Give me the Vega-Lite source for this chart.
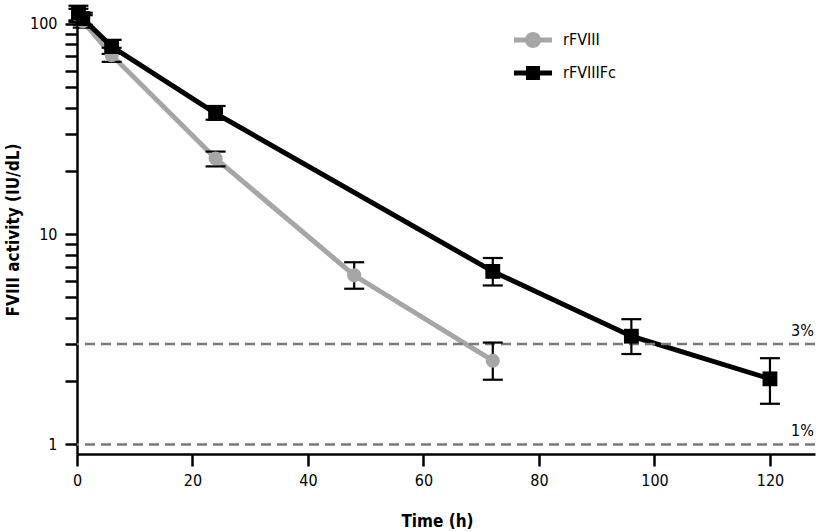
{
  "$schema": "https://vega.github.io/schema/vega-lite/v6.json",
  "width": 738,
  "height": 449,
  "autosize": {"type": "none"},
  "padding": {"left": 77, "top": 5, "right": 2, "bottom": 78},
  "config": {
    "font": "Liberation Sans Narrow, DejaVu Sans Condensed, sans-serif",
    "view": {"stroke": null},
    "axis": {
      "domainColor": "#000000",
      "domainWidth": 2.5,
      "tickColor": "#000000",
      "tickWidth": 2.5,
      "labelColor": "#000000",
      "labelFontSize": 16,
      "titleFontSize": 17,
      "titleFontWeight": "bold",
      "titleColor": "#000000",
      "grid": false,
      "labelFlush": false
    }
  },
  "datasets": {
    "pk": [
      {"series": "rFVIII", "time": 0.25, "mean": 110, "lo": 102, "hi": 118},
      {"series": "rFVIII", "time": 1, "mean": 103, "lo": 96, "hi": 110},
      {"series": "rFVIII", "time": 6, "mean": 71, "lo": 66, "hi": 77},
      {"series": "rFVIII", "time": 24, "mean": 22.9, "lo": 21, "hi": 24.7},
      {"series": "rFVIII", "time": 48, "mean": 6.37, "lo": 5.5, "hi": 7.35},
      {"series": "rFVIII", "time": 72, "mean": 2.5, "lo": 2.03, "hi": 3.05},
      {"series": "rFVIIIFc", "time": 0.25, "mean": 113, "lo": 104, "hi": 122},
      {"series": "rFVIIIFc", "time": 1, "mean": 106, "lo": 99, "hi": 113},
      {"series": "rFVIIIFc", "time": 6, "mean": 78, "lo": 72, "hi": 84},
      {"series": "rFVIIIFc", "time": 24, "mean": 37.5, "lo": 35, "hi": 40.7},
      {"series": "rFVIIIFc", "time": 72, "mean": 6.65, "lo": 5.7, "hi": 7.7},
      {"series": "rFVIIIFc", "time": 96, "mean": 3.27, "lo": 2.69, "hi": 3.94},
      {"series": "rFVIIIFc", "time": 120, "mean": 2.05, "lo": 1.56, "hi": 2.57}
    ],
    "ref": [
      {"level": 1, "label": "1%"},
      {"level": 3, "label": "3%"}
    ]
  },
  "layer": [
    {
      "data": {"name": "pk"},
      "transform": [{"filter": "datum.series == 'rFVIII'"}],
      "mark": {"type": "line", "strokeWidth": 5, "color": "#a6a6a6"},
      "encoding": {
        "x": {
          "field": "time", "type": "quantitative",
          "scale": {"domain": [0, 127.8], "nice": false, "zero": false},
          "axis": {
            "title": "Time (h)",
            "values": [0, 20, 40, 60, 80, 100, 120],
            "tickSize": 12,
            "labelPadding": 6,
            "titlePadding": 25,
            "titleX": 360
          }
        },
        "y": {
          "field": "mean", "type": "quantitative",
          "scale": {"type": "log", "domain": [0.9, 123], "nice": false},
          "axis": {
            "title": "FVIII activity (IU/dL)",
            "values": [1, 2, 3, 4, 5, 6, 7, 8, 9, 10, 20, 30, 40, 50, 60, 70, 80, 90, 100],
            "format": "d",
            "labelExpr": "datum.value == 1 || datum.value == 10 || datum.value == 100 ? datum.label : ''",
            "tickSize": 12,
            "labelPadding": 8,
            "titlePadding": 7,
            "encode": {
              "ticks": {
                "update": {
                  "x2": {"signal": "(datum.value == 1 || datum.value == 10 || datum.value == 100) ? -12 : -6"}
                }
              }
            }
          }
        },
        "order": {"field": "time", "type": "quantitative"}
      }
    },
    {
      "data": {"name": "pk"},
      "transform": [{"filter": "datum.series == 'rFVIIIFc'"}],
      "mark": {"type": "line", "strokeWidth": 5, "color": "#000000"},
      "encoding": {
        "x": {"field": "time", "type": "quantitative"},
        "y": {"field": "mean", "type": "quantitative"},
        "order": {"field": "time", "type": "quantitative"}
      }
    },
    {
      "data": {"name": "ref"},
      "mark": {"type": "rule", "strokeDash": [10, 6], "color": "#7a7a7a", "strokeWidth": 2.5},
      "encoding": {
        "y": {"field": "level", "type": "quantitative"}
      }
    },
    {
      "data": {"name": "ref"},
      "mark": {"type": "text", "align": "right", "baseline": "bottom", "dy": -5, "fontSize": 16, "color": "#000000"},
      "encoding": {
        "x": {"datum": 127.6, "type": "quantitative"},
        "y": {"field": "level", "type": "quantitative"},
        "text": {"field": "label"}
      }
    },
    {
      "data": {"name": "pk"},
      "mark": {"type": "rule", "color": "#000000", "strokeWidth": 2.2},
      "encoding": {
        "x": {"field": "time", "type": "quantitative"},
        "y": {"field": "lo", "type": "quantitative"},
        "y2": {"field": "hi"}
      }
    },
    {
      "data": {"name": "pk"},
      "mark": {"type": "tick", "orient": "horizontal", "color": "#000000", "size": 20, "thickness": 2.2, "opacity": 1},
      "encoding": {
        "x": {"field": "time", "type": "quantitative"},
        "y": {"field": "lo", "type": "quantitative"}
      }
    },
    {
      "data": {"name": "pk"},
      "mark": {"type": "tick", "orient": "horizontal", "color": "#000000", "size": 20, "thickness": 2.2, "opacity": 1},
      "encoding": {
        "x": {"field": "time", "type": "quantitative"},
        "y": {"field": "hi", "type": "quantitative"}
      }
    },
    {
      "data": {"name": "pk"},
      "transform": [{"filter": "datum.series == 'rFVIII'"}],
      "mark": {"type": "point", "shape": "circle", "filled": true, "size": 200, "color": "#a6a6a6", "opacity": 1},
      "encoding": {
        "x": {"field": "time", "type": "quantitative"},
        "y": {"field": "mean", "type": "quantitative"}
      }
    },
    {
      "data": {"name": "pk"},
      "transform": [{"filter": "datum.series == 'rFVIIIFc'"}],
      "mark": {"type": "point", "shape": "square", "filled": true, "size": 220, "color": "#000000", "opacity": 1},
      "encoding": {
        "x": {"field": "time", "type": "quantitative"},
        "y": {"field": "mean", "type": "quantitative"}
      }
    },
    {
      "data": {"name": "pk"},
      "mark": {"type": "point", "filled": true, "opacity": 0},
      "encoding": {
        "x": {"field": "time", "type": "quantitative"},
        "y": {"field": "mean", "type": "quantitative"},
        "color": {
          "field": "series", "type": "nominal",
          "scale": {"domain": ["rFVIII", "rFVIIIFc"], "range": ["#a6a6a6", "#000000"]},
          "legend": {
            "title": null,
            "orient": "none",
            "legendX": 440,
            "legendY": 19,
            "symbolSize": 1024,
            "symbolStrokeWidth": 0,
            "symbolOpacity": 1,
            "labelFontSize": 16,
            "labelColor": "#000000",
            "labelOffset": 14,
            "rowPadding": 9
          }
        },
        "shape": {
          "field": "series", "type": "nominal",
          "scale": {
            "domain": ["rFVIII", "rFVIIIFc"],
            "range": [
              "M-1.19,-0.15H-0.45V0.15H-1.19Z M0.45,-0.15H1.19V0.15H0.45Z M-0.5,0A0.5,0.5,0,1,1,0.5,0A0.5,0.5,0,1,1,-0.5,0Z",
              "M-1.19,-0.15H1.19V0.15H-1.19Z M-0.44,-0.44H0.44V0.44H-0.44Z"
            ]
          },
          "legend": {
            "title": null,
            "orient": "none",
            "legendX": 440,
            "legendY": 19,
            "symbolSize": 1024,
            "symbolStrokeWidth": 0,
            "symbolOpacity": 1,
            "labelFontSize": 16,
            "labelColor": "#000000",
            "labelOffset": 14,
            "rowPadding": 9
          }
        }
      }
    }
  ]
}
